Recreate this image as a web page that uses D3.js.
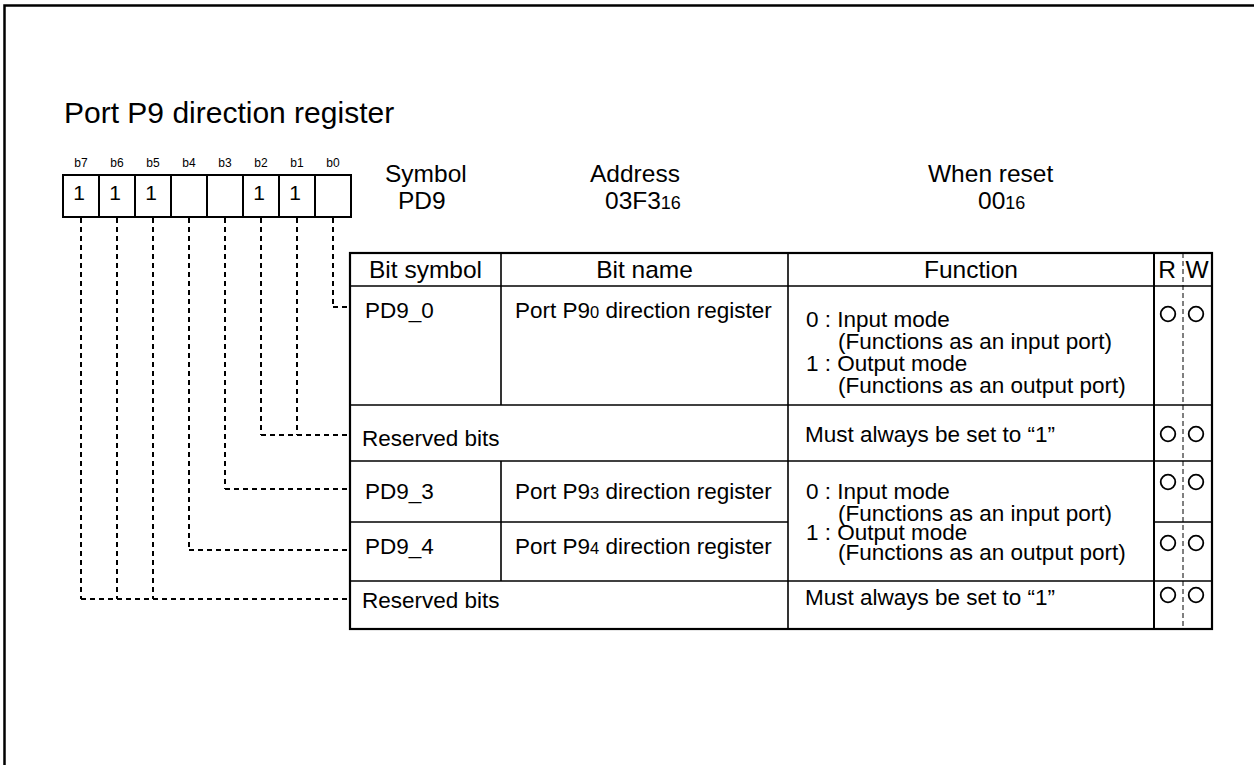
<!DOCTYPE html>
<html><head><meta charset="utf-8">
<script src="https://cdn.jsdelivr.net/npm/d3@7/dist/d3.min.js"></script>
<style>html,body{margin:0;padding:0;background:#fff;}svg{display:block;font-family:"Liberation Sans",Arial,Helvetica,sans-serif;}</style>
</head><body>
<script>
// ---- data ----
const title = "Port P9 direction register";
const bitLabels = ["b7","b6","b5","b4","b3","b2","b1","b0"];
const bitValues = ["1","1","1","","","1","1",""];
const infoHeaders = ["Symbol","Address","When reset"];
const infoValues = [["PD9",""],["03F3","16"],["00","16"]];
const colHeaders = ["Bit symbol","Bit name","Function","R","W"];
const rowSymbols = ["PD9_0","Reserved bits","PD9_3","PD9_4","Reserved bits"];
const rowNames = [["Port P9","0"," direction register"],null,["Port P9","3"," direction register"],["Port P9","4"," direction register"],null];
const rowBits = [["b0"],["b1","b2"],["b3"],["b4"],["b5","b6","b7"]];
const funcPortText = ["0 : Input mode","(Functions as an input port)","1 : Output mode","(Functions as an output port)"];
const funcReserved = "Must always be set to \u201c1\u201d";
const rowRW = [["\u25cb","\u25cb"],["\u25cb","\u25cb"],["\u25cb","\u25cb"],["\u25cb","\u25cb"],["\u25cb","\u25cb"]];

// ---- layout ----
const W = 1254, H = 765;
const svg = d3.select("body").append("svg").attr("width", W).attr("height", H);
svg.append("rect").attr("x",4.5).attr("y",5.5).attr("width",1400).attr("height",1000)
  .attr("fill","none").attr("stroke","#000").attr("stroke-width",2.5);

svg.append("text").attr("x",64).attr("y",123).attr("font-size",30).text(title);

const bx = d3.scaleBand().domain(bitLabels).range([63,351]);
const boxTop = 175, boxBot = 217;
const g = svg.append("g");
g.selectAll("text.bl").data(bitLabels).join("text").attr("class","bl")
  .attr("x", d => bx(d)+bx.bandwidth()/2).attr("y",167).attr("text-anchor","middle")
  .attr("font-size",12).attr("fill","#000").text(d=>d);
g.selectAll("rect.bx").data(bitLabels).join("rect").attr("class","bx")
  .attr("x", d=>bx(d)).attr("y",boxTop).attr("width",bx.bandwidth()).attr("height",boxBot-boxTop)
  .attr("fill","none").attr("stroke","#000").attr("stroke-width",2);
g.selectAll("text.bv").data(bitLabels).join("text").attr("class","bv")
  .attr("x", d=>bx(d)+bx.bandwidth()/2-2).attr("y",200).attr("text-anchor","middle")
  .attr("font-size",21).text((d,i)=>bitValues[i]);

// info headers
const infoX = [[385,398],[590,605],[928,978]];
infoHeaders.forEach((h,i)=>{
  svg.append("text").attr("x",infoX[i][0]).attr("y",182).attr("font-size",24.5).text(h);
  const t = svg.append("text").attr("x",infoX[i][1]).attr("y",209).attr("font-size",24.5);
  t.append("tspan").text(infoValues[i][0]);
  t.append("tspan").attr("font-size",18).text(infoValues[i][1]);
});

// table
const colX = [350,501,788,1154,1212];
const rowY = [253,286,405,461,522,581,629];
const tbl = svg.append("g");
const line = (x1,y1,x2,y2,w)=>tbl.append("line").attr("x1",x1).attr("y1",y1).attr("x2",x2).attr("y2",y2)
  .attr("stroke","#000").attr("stroke-width",w||1.6);
line(colX[0],rowY[1],colX[4],rowY[1]);
line(colX[0],rowY[2],colX[4],rowY[2]);
line(colX[0],rowY[3],colX[4],rowY[3]);
line(colX[0],rowY[4],colX[2],rowY[4]);
line(colX[3],rowY[4],colX[4],rowY[4]);
line(colX[0],rowY[5],colX[4],rowY[5]);
line(colX[1],rowY[0],colX[1],rowY[2]);
line(colX[1],rowY[3],colX[1],rowY[5]);
line(colX[2],rowY[0],colX[2],rowY[6]);
line(colX[3],rowY[0],colX[3],rowY[6],2);
tbl.append("rect").attr("x",colX[0]).attr("y",rowY[0]).attr("width",colX[4]-colX[0]).attr("height",rowY[6]-rowY[0])
  .attr("fill","none").attr("stroke","#000").attr("stroke-width",2.2);
tbl.append("line").attr("x1",1183).attr("x2",1183).attr("y1",rowY[0]).attr("y2",rowY[6])
  .attr("stroke","#000").attr("stroke-width",1).attr("stroke-dasharray","5,3");

const hdrX = [425.5,644.5,971,1167,1197];
colHeaders.forEach((h,i)=>{
  tbl.append("text").attr("x",hdrX[i]).attr("y",278).attr("text-anchor","middle").attr("font-size",24.5).text(h);
});

const fs = 22.5;
const symX = [365,362,365,365,362];
const symY = [318,446,499,554,608];
rowSymbols.forEach((s,i)=>{
  tbl.append("text").attr("x",symX[i]).attr("y",symY[i]).attr("font-size",fs).text(s);
  if(rowNames[i]){
    const t = tbl.append("text").attr("x",515).attr("y",symY[i]).attr("font-size",fs);
    t.append("tspan").text(rowNames[i][0]);
    t.append("tspan").attr("font-size",16.5).text(rowNames[i][1]);
    t.append("tspan").text(rowNames[i][2]);
  }
});
const funcIndent = [806,838,806,838];
[327,349,371,393].forEach((y,k)=>{
  tbl.append("text").attr("x",funcIndent[k]).attr("y",y).attr("font-size",fs).text(funcPortText[k]);
});
[499,521,540,560].forEach((y,k)=>{
  tbl.append("text").attr("x",funcIndent[k]).attr("y",y).attr("font-size",fs).text(funcPortText[k]);
});
[442,605].forEach(y=>{
  tbl.append("text").attr("x",805).attr("y",y).attr("font-size",fs).text(funcReserved);
});

const circY = [314,434,482,543,595];
const circX = [1168,1196];
rowRW.forEach((rw,i)=>{
  rw.forEach((c,j)=>{
    if(c) tbl.append("circle").attr("cx",circX[j]).attr("cy",circY[i]).attr("r",7.3)
      .attr("fill","none").attr("stroke","#000").attr("stroke-width",1.8);
  });
});

const connY = [307,435,489,550,599];
const con = svg.append("g").attr("fill","none").attr("stroke","#000").attr("stroke-width",2).attr("stroke-dasharray","5,4");
rowBits.forEach((bits,i)=>{
  bits.forEach(b=>{
    const x = bx(b)+bx.bandwidth()/2;
    con.append("path").attr("d",`M${x},${boxBot+1}V${connY[i]}`);
  });
  const xmin = d3.min(bits, b=>bx(b)+bx.bandwidth()/2);
  con.append("path").attr("d",`M${xmin},${connY[i]}H${colX[0]}`);
});
</script>
</body></html>
